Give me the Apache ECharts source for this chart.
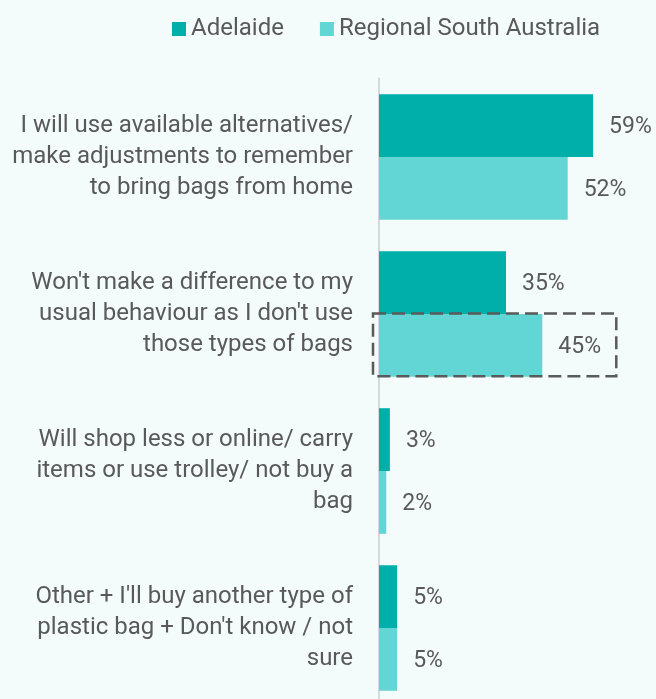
<!DOCTYPE html>
<html>
<head>
<meta charset="utf-8">
<script src="https://cdn.jsdelivr.net/npm/echarts@6/dist/echarts.min.js"></script>
<style>
  html, body { margin: 0; padding: 0; background: #f3fbfb; }
  #chart { width: 656px; height: 699px; }
</style>
</head>
<body>
<div id="chart"></div>
<script>
// Responses about the plastic bag change, by region (% of respondents)
const categories = [
  "I will use available alternatives/\nmake adjustments to remember\nto bring bags from home",
  "Won't make a difference to my\nusual behaviour as I don't use\nthose types of bags",
  "Will shop less or online/ carry\nitems or use trolley/ not buy a\nbag",
  "Other + I'll buy another type of\nplastic bag + Don't know / not\nsure"
];
const seriesNames = ["Adelaide", "Regional South Australia"];
const adelaide = [59, 35, 3, 5];
const regional = [52, 45, 2, 5];
// category whose regional bar is highlighted with a dashed frame
const highlightIndex = 1;

const textColor = "#595959";
const font = "Roboto, 'DejaVu Sans', sans-serif";

const chart = echarts.init(document.getElementById("chart"));

const valueLabel = {
  show: true,
  position: "right",
  distance: 16,
  offset: [0, 2],
  formatter: "{c}%",
  color: textColor,
  fontSize: 23,
  fontFamily: font
};

chart.setOption({
  backgroundColor: "#f3fbfb",
  animation: false,
  legend: {
    data: seriesNames,
    left: 172,
    top: 17,
    padding: 0,
    icon: "rect",
    itemWidth: 14,
    itemHeight: 14,
    itemGap: 36,
    textStyle: { color: textColor, fontSize: 24, fontFamily: font }
  },
  grid: { left: 379, top: 78.5, height: 628, right: 23, outerBoundsMode: "none" },
  xAxis: {
    type: "value",
    min: 0,
    max: 70,
    show: false
  },
  yAxis: {
    type: "category",
    data: categories,
    inverse: true,
    axisTick: { show: false },
    axisLine: { show: true, lineStyle: { color: "#d6d9d9", width: 2 } },
    axisLabel: {
      color: textColor,
      fontSize: 24,
      lineHeight: 31,
      fontFamily: font,
      margin: 26,
      align: "right",
      padding: [5, 0, 0, 0]
    }
  },
  series: [
    {
      name: seriesNames[0],
      type: "bar",
      data: adelaide,
      barGap: "0%",
      barCategoryGap: "20%",
      itemStyle: { color: "#00afaa" },
      label: valueLabel
    },
    {
      name: seriesNames[1],
      type: "bar",
      data: regional,
      barGap: "0%",
      barCategoryGap: "20%",
      itemStyle: { color: "#61d6d4" },
      label: valueLabel
    }
  ]
});

// Dashed frame around the highlighted regional bar and its label
const c0 = chart.convertToPixel({ xAxisIndex: 0, yAxisIndex: 0 }, [0, highlightIndex]);
const c1 = chart.convertToPixel({ xAxisIndex: 0, yAxisIndex: 0 }, [0, highlightIndex + 1]);
const band = Math.abs(c1[1] - c0[1]);
const barEnd = chart.convertToPixel({ xAxisIndex: 0 }, regional[highlightIndex]);
const boxLeft = c0[0] - 6;
const boxRight = barEnd + 74;
const boxTop = c0[1] - 0.5;
const boxBottom = c0[1] + band * 0.4 - 0.5;

chart.setOption({
  graphic: [{
    type: "rect",
    z: 100,
    shape: { x: boxLeft, y: boxTop, width: boxRight - boxLeft, height: boxBottom - boxTop },
    style: { fill: null, stroke: "#5a5a5a", lineWidth: 2.5, lineDash: [13, 6] }
  }]
});
</script>
</body>
</html>
